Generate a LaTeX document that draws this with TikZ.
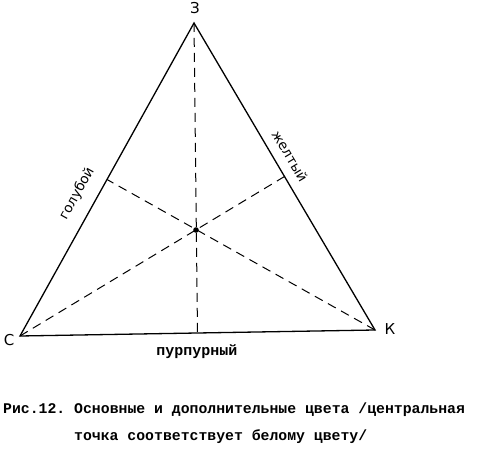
\documentclass[tikz,border=0pt]{standalone}
\usepackage{fontspec}
\setmainfont{Liberation Serif}
\newfontfamily\typefont{Liberation Mono}
\newfontfamily\handfont{DejaVu Sans}
\usetikzlibrary{calc}
\frenchspacing
\tikzstyle{side}=[line width=1.3pt]
\tikzstyle{median}=[line width=1pt,dash pattern=on 9pt off 6pt]
\tikzstyle{vertexlabel}=[font=\handfont\fontsize{15}{15}\selectfont,inner sep=0pt]
\tikzstyle{sidelabel}=[font=\handfont\fontsize{13.5}{13.5}\selectfont,inner sep=0pt]
\newcommand{\captionline}[2]{
  \node[anchor=west,inner sep=0pt,font=\typefont\bfseries\fontsize{14.8}{14.8}\selectfont] (#1) #2;
}

\begin{document}
\begin{tikzpicture}[x=1pt,y=1pt]
\useasboundingbox (0,0) rectangle (477,450);
% vertices of the triangle
\coordinate (Z) at (194,427);
\coordinate (C) at (20,114);
\coordinate (K) at (375,120);
% midpoints of the sides and the centre
\coordinate (midCZ) at ($(C)!0.5!(Z)$);
\coordinate (midZK) at ($(Z)!0.5!(K)$);
\coordinate (midCK) at ($(C)!0.5!(K)$);
\coordinate (centre) at (196,220);
\draw[side] (C) -- (Z) -- (K) -- cycle;
% medians
\draw[median] (Z) -- (midCK);
\draw[median] (C) -- (midZK);
\draw[median] (K) -- (midCZ);
\fill (centre) circle (2.8);
% vertex labels
\node[vertexlabel] (labZ) at (195,442) {З};
\node[vertexlabel] (labC) at (9,110) {С};
\node[vertexlabel] (labK) at (390,121) {К};
% side labels
\node[sidelabel,rotate=61] (blue) at (77,256) {голубой};
\node[sidelabel,rotate=-59] (yellow) at (290,294) {желтый};
\node[inner sep=0pt,font=\typefont\bfseries\fontsize{15}{15}\selectfont] (purple) at (197,98) {пурпурный};
% caption
\captionline{capA}{at (3,40) {Рис.12. Основные и дополнительные цвета /центральная}}
\captionline{capB}{at (74,13) {точка соответствует белому цвету/}}
\end{tikzpicture}
\end{document}
